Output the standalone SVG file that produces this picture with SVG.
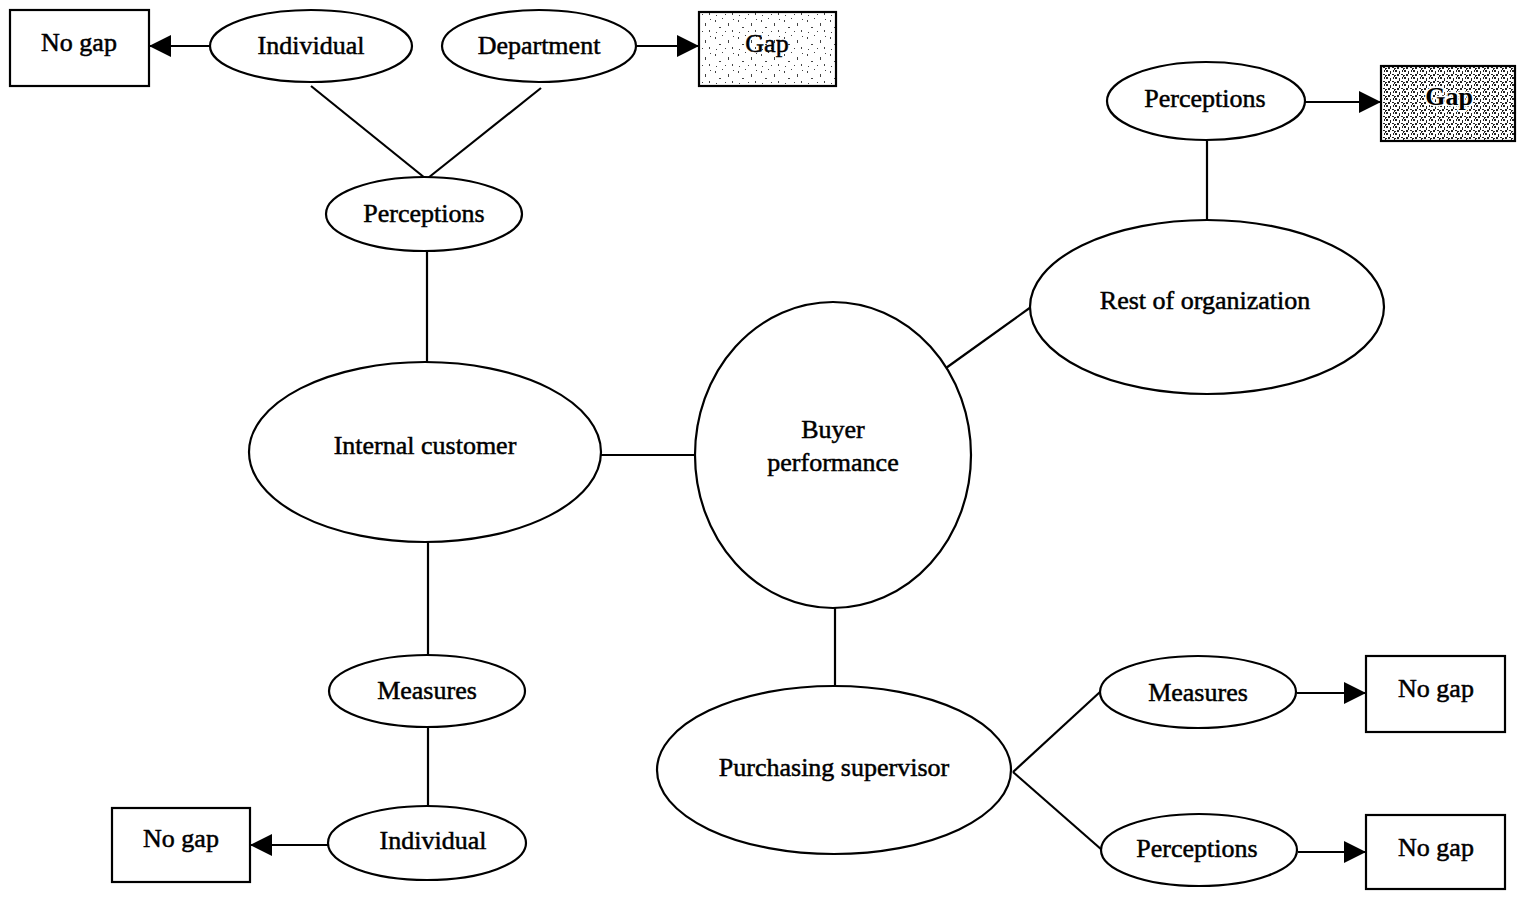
<svg xmlns="http://www.w3.org/2000/svg" width="1517" height="897" viewBox="0 0 1517 897">
<style>
.n{fill:#fff;stroke:#000;stroke-width:2.2}
.t{font-family:"Liberation Serif","Times New Roman",serif;font-size:26px;fill:#000;stroke:#000;stroke-width:0.5;text-anchor:middle;dominant-baseline:central}
.g{paint-order:stroke;stroke:#fff;stroke-width:3;font-weight:bold}
.c{stroke:#000;stroke-width:2.2;fill:none}
.a{stroke:#000;stroke-width:2.2;fill:none;marker-end:url(#ah)}
</style>
<defs>
<marker id="ah" viewBox="0 0 10 10" refX="10" refY="5" markerWidth="22" markerHeight="22" markerUnits="userSpaceOnUse" orient="auto">
<path d="M0,0 L10,5 L0,10 z" fill="#000"/>
</marker>
<pattern id="light" width="23" height="17" patternUnits="userSpaceOnUse">
<rect width="23" height="17" fill="#fff"/>
<rect x="2" y="3" width="1" height="2" fill="#444"/>
<rect x="9" y="1" width="1" height="1" fill="#444"/>
<rect x="15" y="6" width="1" height="3" fill="#444"/>
<rect x="6" y="10" width="2" height="1" fill="#444"/>
<rect x="19" y="13" width="1" height="2" fill="#444"/>
<rect x="12" y="14" width="1" height="1" fill="#444"/>
<rect x="3" y="15" width="1" height="1" fill="#444"/>
<rect x="20" y="2" width="1" height="1" fill="#444"/>
</pattern>
<pattern id="dark" width="9" height="7" patternUnits="userSpaceOnUse">
<rect width="9" height="7" fill="#fff"/>
<rect x="0" y="0" width="2" height="2" fill="#222"/>
<rect x="4" y="1" width="1" height="3" fill="#222"/>
<rect x="7" y="0" width="1" height="2" fill="#222"/>
<rect x="2" y="4" width="2" height="2" fill="#222"/>
<rect x="6" y="4" width="2" height="1" fill="#222"/>
<rect x="8" y="5" width="1" height="2" fill="#222"/>
<rect x="0" y="5" width="1" height="1" fill="#222"/>
</pattern>
</defs>
<g id="connectors">
<line class="a" x1="210" y1="46" x2="149" y2="46"/>
<line class="a" x1="636" y1="46" x2="699" y2="46"/>
<line class="c" x1="311" y1="86" x2="425" y2="178"/>
<line class="c" x1="541" y1="88" x2="428" y2="178"/>
<line class="c" x1="427" y1="252" x2="427" y2="362"/>
<line class="c" x1="601" y1="455" x2="695" y2="455"/>
<line class="c" x1="835" y1="608" x2="835" y2="687"/>
<line class="c" x1="1013" y1="772" x2="1100" y2="692"/>
<line class="c" x1="1013" y1="772" x2="1102" y2="850"/>
<line class="a" x1="1297" y1="693" x2="1366" y2="693"/>
<line class="a" x1="1298" y1="852" x2="1366" y2="852"/>
<line class="c" x1="946" y1="368" x2="1031" y2="307"/>
<line class="c" x1="1207" y1="141" x2="1207" y2="220"/>
<line class="a" x1="1305" y1="102" x2="1381" y2="102"/>
<line class="c" x1="428" y1="542" x2="428" y2="655"/>
<line class="c" x1="428" y1="727" x2="428" y2="806"/>
<line class="a" x1="328" y1="845" x2="250" y2="845"/>
</g>
<g id="nogap1"><rect class="n" x="10" y="10" width="139" height="76"/><text class="t" x="79" y="42">No gap</text></g>
<g id="individual1"><ellipse class="n" cx="311" cy="46" rx="101" ry="36"/><text class="t" x="311" y="45">Individual</text></g>
<g id="department"><ellipse class="n" cx="539" cy="46" rx="97" ry="36"/><text class="t" x="539" y="45">Department</text></g>
<g id="gap1"><rect x="699" y="12" width="137" height="74" fill="url(#light)" stroke="#000" stroke-width="2.2"/><text class="t" x="767" y="43">Gap</text></g>
<g id="perceptions1"><ellipse class="n" cx="424" cy="214" rx="98" ry="37"/><text class="t" x="424" y="213">Perceptions</text></g>
<g id="internal"><ellipse class="n" cx="425" cy="452" rx="176" ry="90"/><text class="t" x="425" y="445">Internal customer</text></g>
<g id="buyer"><ellipse class="n" cx="833" cy="455" rx="138" ry="153"/><text class="t" x="833" y="429">Buyer</text><text class="t" x="833" y="462">performance</text></g>
<g id="supervisor"><ellipse class="n" cx="834" cy="770" rx="177" ry="84"/><text class="t" x="834" y="767">Purchasing supervisor</text></g>
<g id="measures2"><ellipse class="n" cx="1198" cy="692" rx="98" ry="36"/><text class="t" x="1198" y="692">Measures</text></g>
<g id="nogap3"><rect class="n" x="1366" y="656" width="139" height="76"/><text class="t" x="1436" y="688">No gap</text></g>
<g id="perceptions3"><ellipse class="n" cx="1199" cy="850" rx="98" ry="36"/><text class="t" x="1197" y="848">Perceptions</text></g>
<g id="nogap4"><rect class="n" x="1366" y="815" width="139" height="74"/><text class="t" x="1436" y="847">No gap</text></g>
<g id="rest"><ellipse class="n" cx="1207" cy="307" rx="177" ry="87"/><text class="t" x="1205" y="300">Rest of organization</text></g>
<g id="perceptions2"><ellipse class="n" cx="1206" cy="101" rx="99" ry="39"/><text class="t" x="1205" y="98">Perceptions</text></g>
<g id="gap2"><rect x="1381" y="66" width="134" height="75" fill="url(#dark)" stroke="#000" stroke-width="2.2"/><text class="t g" x="1449" y="96">Gap</text></g>
<g id="measures1"><ellipse class="n" cx="427" cy="691" rx="98" ry="36"/><text class="t" x="427" y="690">Measures</text></g>
<g id="individual2"><ellipse class="n" cx="427" cy="843" rx="99" ry="37"/><text class="t" x="433" y="840">Individual</text></g>
<g id="nogap2"><rect class="n" x="112" y="808" width="138" height="74"/><text class="t" x="181" y="838">No gap</text></g>
</svg>
